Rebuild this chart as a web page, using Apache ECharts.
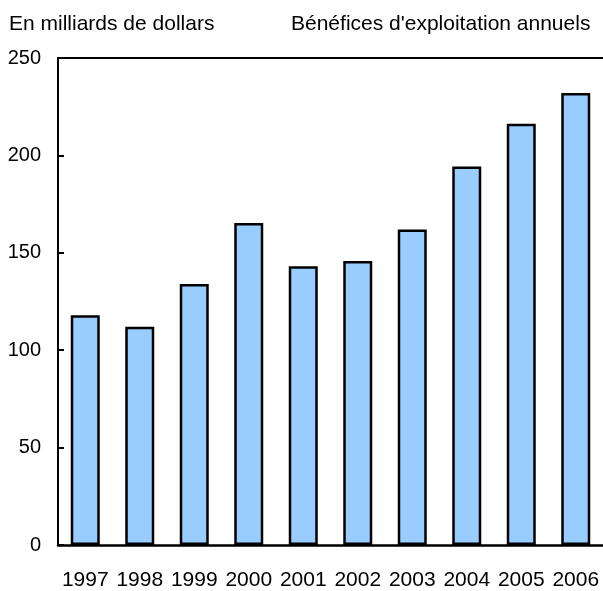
<!DOCTYPE html>
<html><head><meta charset="utf-8">
<script src="https://cdn.jsdelivr.net/npm/echarts@6/dist/echarts.min.js"></script>
<style>html,body{margin:0;padding:0;background:#fff}#c{width:603px;height:591px}</style>
</head><body><div id="c"></div>
<script>
const years = ['1997','1998','1999','2000','2001','2002','2003','2004','2005','2006'];
const profits = [118, 112, 134, 165.3, 143.1, 145.8, 162, 194.3, 216.2, 232];
const yTicks = [0, 50, 100, 150, 200, 250];
const unitLabel = 'En milliards de dollars';
const titleText = "Bénéfices d'exploitation annuels";

const chart = echarts.init(document.getElementById('c'));
const font = 'Liberation Sans, Arial, Helvetica, sans-serif';
chart.setOption({
  animation: false,
  backgroundColor: '#fff',
  title: [
    {text: unitLabel, left: 4, top: 9, textStyle: {fontFamily: font, fontSize: 21, fontWeight: 'normal', color: '#000'}},
    {text: titleText, left: 286, top: 9, textStyle: {fontFamily: font, fontSize: 21, fontWeight: 'normal', color: '#000'}}
  ],
  grid: {left: 58, right: 0, top: 58, bottom: 45, containLabel: false},
  xAxis: [{
    type: 'category', data: years, position: 'bottom',
    axisLine: {lineStyle: {color: '#000', width: 2.5}},
    axisTick: {show: false},
    axisLabel: {fontFamily: font, fontSize: 21, color: '#000', margin: 25, interval: 0}
  }, {
    type: 'category', data: years, position: 'top',
    axisLine: {show: true, lineStyle: {color: '#000', width: 2}},
    axisTick: {show: false}, axisLabel: {show: false}
  }],
  yAxis: {
    type: 'value', min: yTicks[0], max: yTicks[yTicks.length-1], interval: 50,
    axisLine: {show: true, lineStyle: {color: '#000', width: 2}},
    axisTick: {show: true, inside: true, length: 6, lineStyle: {color: '#000', width: 2}},
    splitLine: {show: false},
    axisLabel: {fontFamily: font, fontSize: 20, color: '#000', margin: 17}
  },
  series: [{
    type: 'bar', data: profits, barWidth: 29,
    itemStyle: {color: '#99ccff', borderColor: '#000', borderWidth: 2.5}
  }]
});
</script></body></html>
